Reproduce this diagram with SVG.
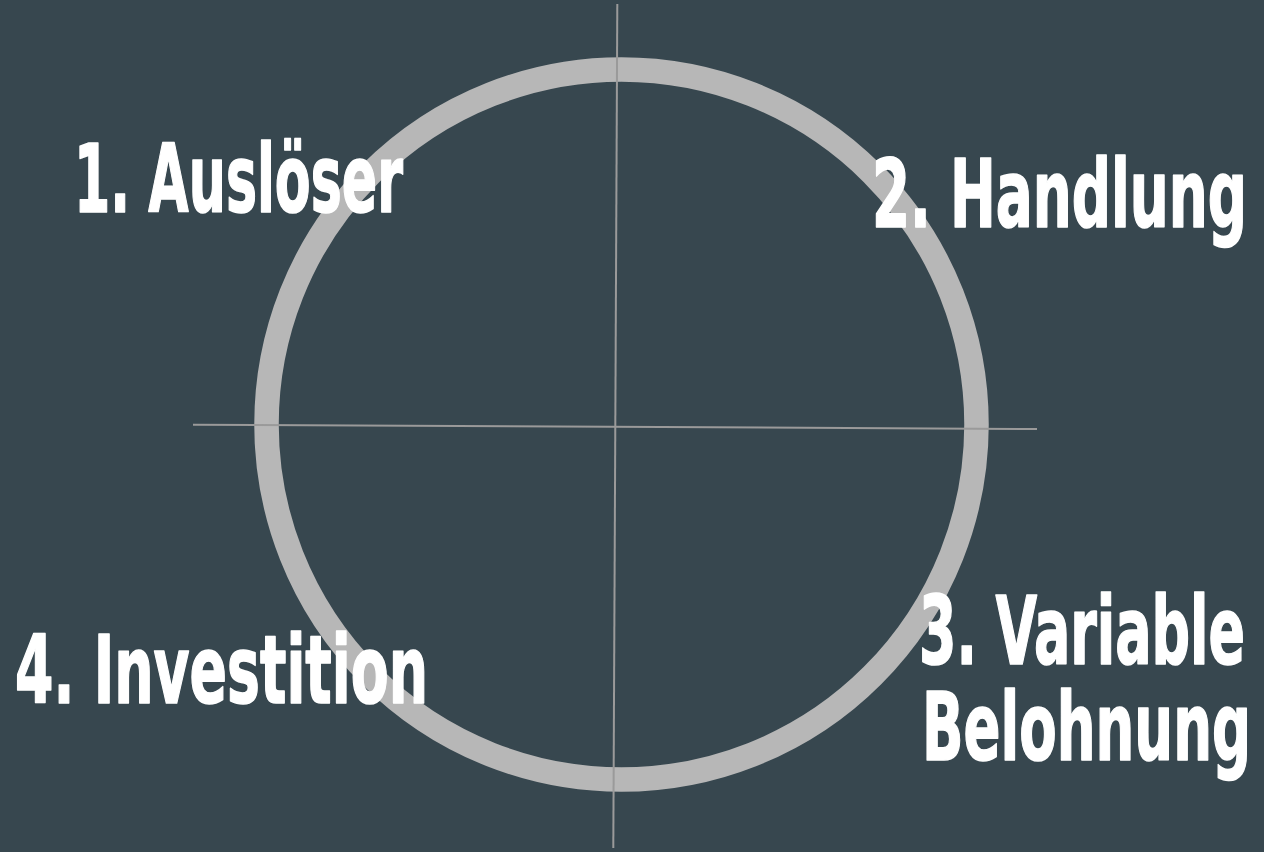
<svg xmlns="http://www.w3.org/2000/svg" width="1264" height="852" viewBox="0 0 1264 852">
<style>
.lbl{font-family:"Liberation Sans Narrow","DejaVu Sans Condensed","Liberation Sans",sans-serif;font-weight:bold;font-size:95px;fill:#ffffff;stroke:#ffffff;stroke-width:1.6;stroke-linejoin:round;}
.axis{stroke:#9a9a9a;stroke-width:2;fill:none;}
</style>
<rect x="0" y="0" width="1264" height="852" fill="#37474f"/>
<g id="cycle">
<circle cx="621.5" cy="424.5" r="355" fill="none" stroke="#b7b7b7" stroke-width="24.5"/>
</g>
<g id="connectors">
<line class="axis" x1="617.3" y1="4" x2="613.3" y2="848"/>
<line class="axis" x1="193" y1="424.7" x2="1037" y2="429"/>
</g>
<g id="node1"><text class="lbl" x="74" y="212" textLength="329" lengthAdjust="spacingAndGlyphs">1. Auslöser</text></g>
<g id="node2"><text class="lbl" x="872" y="227" textLength="375" lengthAdjust="spacingAndGlyphs">2. Handlung</text></g>
<g id="node3"><text class="lbl" x="919" y="664" textLength="326" lengthAdjust="spacingAndGlyphs">3. Variable</text><text class="lbl" x="922" y="760" textLength="329" lengthAdjust="spacingAndGlyphs">Belohnung</text></g>
<g id="node4"><text class="lbl" x="15" y="703" textLength="413" lengthAdjust="spacingAndGlyphs">4. Investition</text></g>
</svg>
